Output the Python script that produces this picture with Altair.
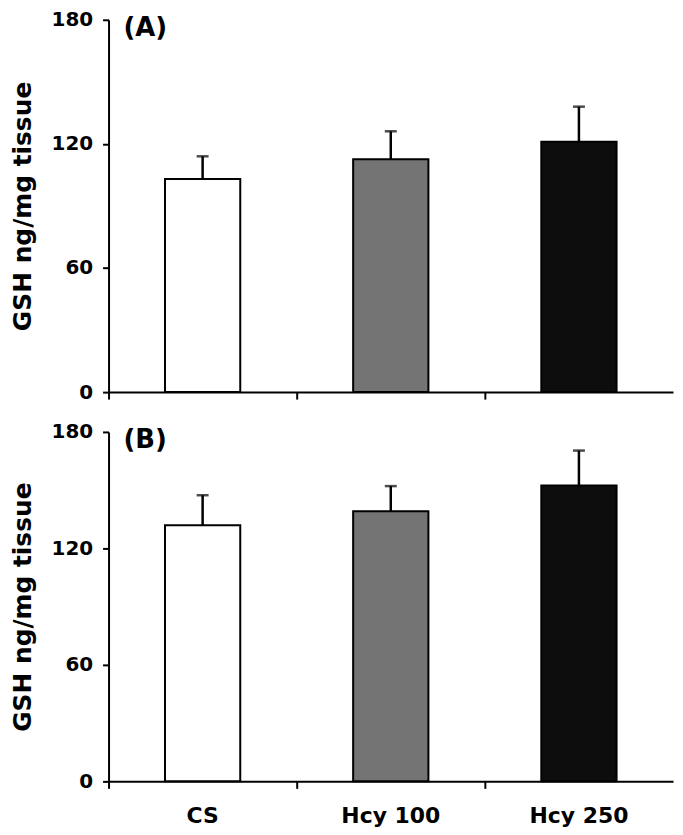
import altair as alt
import pandas as pd

categories = ["CS", "Hcy 100", "Hcy 250"]
means_a = [103.0, 112.6, 121.0]
sd_a = [11.0, 13.5, 17.0]
means_b = [131.9, 139.1, 152.4]
sd_b = [15.5, 13.0, 18.0]
fills = ["#ffffff", "#747474", "#0d0d0d"]
y_ticks = [0, 60, 120, 180]
panel_labels = ["(A)", "(B)"]

FONT = "DejaVu Sans"
W = 567


def panel(means, sds, height, show_labels, label):
    df = pd.DataFrame({"group": categories, "mean": means, "sd": sds})
    df["top"] = df["mean"] + df["sd"]
    x_axis = alt.Axis(
        title=None,
        labels=show_labels,
        labelAngle=0,
        labelAlign="center",
        labelFlush=False,
        labelFont=FONT,
        labelFontSize=22,
        labelFontWeight="bold",
        labelColor="black",
        labelPadding=27,
        bandPosition=0,
        tickSize=7,
        tickWidth=2,
        tickColor="black",
        domainColor="black",
        domainWidth=2,
    )
    y_axis = alt.Axis(
        title="GSH ng/mg tissue",
        titleFont=FONT,
        titleFontSize=25,
        titleFontWeight="bold",
        titleColor="black",
        titlePadding=16,
        values=y_ticks,
        labelFont=FONT,
        labelFontSize=20,
        labelFontWeight="bold",
        labelColor="black",
        labelPadding=10,
        tickSize=6,
        tickWidth=2,
        tickColor="black",
        domainColor="black",
        domainWidth=2,
        grid=False,
    )
    x = alt.X("group:N", sort=categories, axis=x_axis,
              scale=alt.Scale(paddingInner=0, paddingOuter=0))
    y_scale = alt.Scale(domain=[0, 180], nice=False)
    base = alt.Chart(df)
    bars = base.mark_bar(width={"band": 0.4}, stroke="black", strokeWidth=2).encode(
        x=x,
        y=alt.Y("mean:Q", scale=y_scale, axis=y_axis),
        fill=alt.Fill("group:N", scale=alt.Scale(domain=categories, range=fills), legend=None),
    )
    rules = base.mark_rule(color="black", strokeWidth=2.5).encode(
        x=alt.X("group:N", sort=categories),
        y=alt.Y("mean:Q"),
        y2="top:Q",
    )
    caps = base.mark_tick(color="black", size=12, thickness=2.5).encode(
        x=alt.X("group:N", sort=categories),
        y=alt.Y("top:Q"),
    )
    txt = alt.Chart(pd.DataFrame({"label": [label]})).mark_text(
        align="left", baseline="top", font=FONT, fontSize=26, fontWeight="bold", color="black"
    ).encode(x=alt.value(15), y=alt.value(-5), text="label:N")
    return alt.layer(rules, bars, caps, txt).properties(width=W, height=height)


top = panel(means_a, sd_a, 374, False, panel_labels[0])
bottom = panel(means_b, sd_b, 351, True, panel_labels[1])

chart = alt.vconcat(top, bottom, spacing=20).properties(
    padding={"left": 2, "right": 2, "top": 0, "bottom": 0}
).configure_view(stroke=None)

chart.save("out.html", embed_options={"renderer": "svg", "actions": False})
